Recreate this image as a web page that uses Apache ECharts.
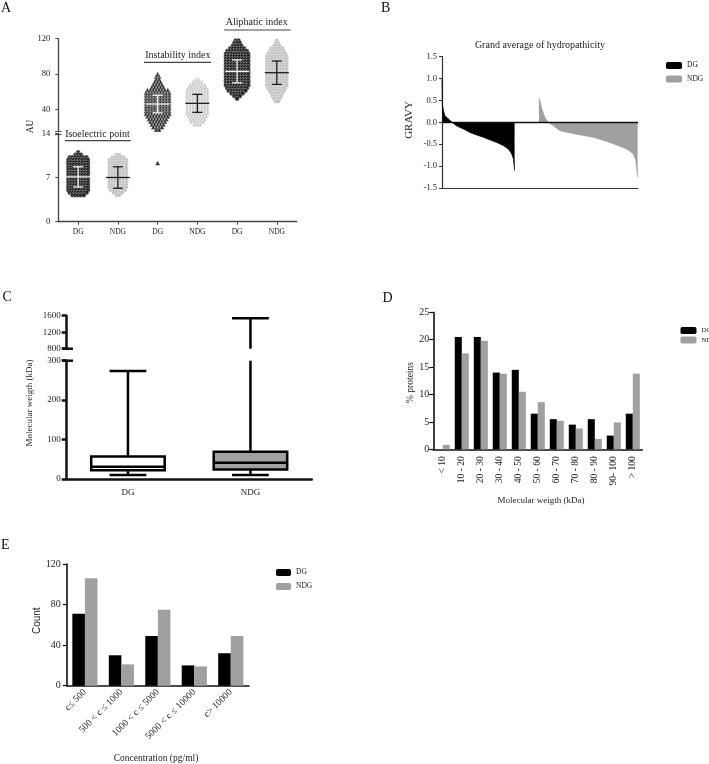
<!DOCTYPE html>
<html>
<head>
<meta charset="utf-8">
<script src="https://cdn.jsdelivr.net/npm/echarts@6/dist/echarts.min.js"></script>
<style>
  html, body { margin: 0; padding: 0; background: #fff; }
  #chart { width: 709px; height: 764px; }
</style>
</head>
<body>
<div id="chart"></div>
<script>
// ---------- A: dot plots, each row = value level and how many dots sit on it
const aGroups = ['DG', 'NDG', 'DG', 'NDG', 'DG', 'NDG'];
const isoLevels = [11.0, 10.6, 10.2, 9.8, 9.4, 9.0, 8.6, 8.2, 7.8, 7.4, 7.0, 6.6, 6.2, 5.8, 5.4, 5.0, 4.6, 4.2];
const isoDgCounts = [1, 3, 7, 8, 8, 8, 8, 8, 8, 8, 8, 8, 8, 8, 8, 8, 7, 5];
const isoNdgCounts = [0, 2, 5, 7, 7, 7, 7, 7, 7, 7, 7, 7, 7, 7, 7, 6, 4, 2];
const instLevels = [80, 77, 74, 71, 68, 65, 62, 59, 56, 53, 50, 47, 44, 41, 38, 35, 32, 29, 26, 23, 20, 17];
const instDgCounts = [1, 2, 2, 3, 4, 5, 8, 9, 9, 9, 9, 9, 9, 9, 9, 9, 8, 7, 6, 5, 4, 2];
const instNdgCounts = [0, 0, 2, 4, 6, 7, 8, 8, 8, 8, 8, 8, 8, 8, 8, 8, 7, 6, 5, 3, 0, 0];
const instDgOutlier = [9.3];
const aliLevels = [118, 115, 112, 109, 106, 103, 100, 97, 94, 91, 88, 85, 82, 79, 76, 73, 70, 67, 64, 61, 58, 55, 52, 49];
const aliDgCounts = [2, 3, 4, 6, 8, 9, 9, 9, 9, 9, 9, 9, 9, 9, 9, 9, 9, 9, 8, 7, 5, 3, 1, 0];
const aliNdgCounts = [1, 2, 3, 5, 6, 7, 8, 8, 8, 8, 8, 8, 8, 8, 8, 8, 8, 8, 7, 6, 5, 4, 3, 2];
const aMeans = [7.1, 7.0, 46.0, 46.8, 83.0, 81.5];
const aSds = [1.6, 1.7, 10.0, 10.2, 13.0, 13.2];

// ---------- B: sorted GRAVY (protein rank, value)
const dgRank = [0, 1, 4, 8, 15, 22, 27, 40, 59, 77, 96, 114, 132, 151, 169, 183, 192, 197, 200];
const dgGravy = [1.0, 0.4, 0.27, 0.15, 0.1, 0.04, 0.0, -0.08, -0.15, -0.23, -0.29, -0.34, -0.40, -0.46, -0.53, -0.61, -0.72, -0.84, -1.1];
const ndgRank = [0, 3, 8, 17, 26, 40, 58, 104, 150, 196, 242, 260, 267, 272];
const ndgGravy = [0.55, 0.48, 0.3, 0.1, 0.0, -0.08, -0.19, -0.27, -0.34, -0.46, -0.61, -0.72, -0.87, -1.25];
const ndgStart = 267;
const rankMax = 540;

// ---------- C: molecular weight box plot
const boxGroups = ['DG', 'NDG'];
const mwLow = [10, 10];
const mwQ1 = [22, 24];
const mwMedian = [31, 41];
const mwQ3 = [57, 69];
const mwHigh = [274, 1537];

// ---------- D: molecular weight distribution
const mwBins = ['< 10', '10 - 20', '20 - 30', '30 - 40', '40 - 50', '50 - 60', '60 - 70', '70 - 80', '80 - 90', '90- 100', '> 100'];
const mwDG = [0, 20.5, 20.5, 14, 14.5, 6.5, 5.5, 4.5, 5.5, 2.5, 6.5];
const mwNDG = [0.8, 17.5, 19.8, 13.8, 10.5, 8.6, 5.2, 3.8, 1.9, 4.9, 13.8];

// ---------- E: concentration classes
const concBins = ['c\u2264 500', '500 < c \u2264 1000', '1000 < c \u2264 5000', '5000 < c \u2264 10000', 'c> 10000'];
const concDG = [71, 30, 49, 20, 32];
const concNDG = [106, 21, 75, 19, 49];

const SERIF = 'Liberation Serif';
const SANS = 'Liberation Sans';
const TXT = '#222';

const chart = echarts.init(document.getElementById('chart'));

// px width of one group in panel A (grid width / 6)
const A_SLOT = 238.4 / 6;
function swarm(slot, levels, counts, stepPx) {
  const pts = [];
  levels.forEach((lv, i) => {
    const n = counts[i];
    for (let k = 0; k < n; k++) {
      pts.push([slot + 0.5 + (k - (n - 1) / 2) * stepPx / A_SLOT, lv]);
    }
  });
  return pts;
}

function renderErrorBar(params, api) {
  const x = api.value(0), m = api.value(1), s = api.value(2);
  const color = api.value(3) ? '#111' : '#fff';
  const t = api.coord([x, m + s]), c = api.coord([x, m]), b = api.coord([x, m - s]);
  const st = { stroke: color, lineWidth: 1.2 };
  return {
    type: 'group',
    children: [
      { type: 'line', shape: { x1: c[0], y1: t[1], x2: c[0], y2: b[1] }, style: st },
      { type: 'line', shape: { x1: c[0] - 5, y1: t[1], x2: c[0] + 5, y2: t[1] }, style: st },
      { type: 'line', shape: { x1: c[0] - 5, y1: b[1], x2: c[0] + 5, y2: b[1] }, style: st },
      { type: 'line', shape: { x1: c[0] - 12, y1: c[1], x2: c[0] + 12, y2: c[1] }, style: st }
    ]
  };
}

const boxFills = ['#fff', '#a0a0a0'];
function renderBox(params, api) {
  const cs = params.coordSys;
  const yMin = cs.y, yMax = cs.y + cs.height;
  const clampY = y => Math.min(yMax, Math.max(yMin, y));
  const inside = y => y >= yMin - 0.5 && y <= yMax + 0.5;
  const i = api.value(0);
  const band = api.size([1, 0])[0];
  const cx = api.coord([i, 0])[0];
  const py = k => api.coord([i, api.value(k)])[1];
  const yLow = py(1), yQ1 = py(2), yMed = py(3), yQ3 = py(4), yHigh = py(5);
  const bw = band * 0.3, cw = band * 0.15;
  const st = { stroke: '#000', lineWidth: 2.5 };
  const kids = [];
  const vline = (ya, yb) => {
    const a = clampY(ya), b2 = clampY(yb);
    if (Math.abs(a - b2) > 0.5) kids.push({ type: 'line', shape: { x1: cx, y1: a, x2: cx, y2: b2 }, style: st });
  };
  const hline = (y, half) => {
    if (inside(y)) kids.push({ type: 'line', shape: { x1: cx - half, y1: y, x2: cx + half, y2: y }, style: st });
  };
  vline(yLow, yQ1);
  vline(yQ3, yHigh);
  hline(yLow, cw);
  hline(yHigh, cw);
  const bTop = clampY(yQ3), bBot = clampY(yQ1);
  if (bBot - bTop > 0.5) {
    kids.push({ type: 'rect', shape: { x: cx - bw, y: bTop, width: 2 * bw, height: bBot - bTop },
      style: { fill: boxFills[i], stroke: '#000', lineWidth: 2.5 } });
  }
  hline(yMed, bw);
  return { type: 'group', children: kids };
}

const boxData = boxGroups.map((g, i) => [i, mwLow[i], mwQ1[i], mwMedian[i], mwQ3[i], mwHigh[i]]);
const errData = aMeans.map((m, i) => [i + 0.5, m, aSds[i], i % 2]);

const lbl = (size, extra) => Object.assign({ fontFamily: SERIF, fontSize: size, color: TXT }, extra || {});
const aLine = (w, c) => ({ show: true, lineStyle: { color: c, width: w } });
const plain = v => String(v);

const groupTicks = [0.5, 1.5, 2.5, 3.5, 4.5, 5.5];

const option = {
  animation: false,
  backgroundColor: '#fff',
  grid: [
    { left: 58.3, top: 133.3, width: 238.4, height: 88.4 },   // A lower
    { left: 58.3, top: 38.7, width: 238.4, height: 92.7 },    // A upper
    { left: 442, top: 56.7, width: 196, height: 131.3 },      // B
    { left: 66.7, top: 360.7, width: 245, height: 118.3 },    // C lower
    { left: 66.7, top: 315.7, width: 245, height: 33 },       // C upper
    { left: 433.3, top: 312.3, width: 209, height: 137 },     // D
    { left: 66.7, top: 564, width: 182.3, height: 121.7 }     // E
  ],
  xAxis: [
    { gridIndex: 0, type: 'value', min: 0, max: 6, splitLine: { show: false },
      axisLine: aLine(1.3, '#444'),
      axisTick: { customValues: groupTicks, length: 3, lineStyle: { color: '#444' } },
      axisLabel: lbl(7.5, { customValues: groupTicks, margin: 6, formatter: v => aGroups[Math.round(v - 0.5)] }) },
    { gridIndex: 1, type: 'value', min: 0, max: 6, show: false },
    { gridIndex: 2, type: 'value', min: 0, max: rankMax, splitLine: { show: false },
      axisLine: Object.assign(aLine(1.2, '#333'), { onZero: false }), axisTick: { show: false }, axisLabel: { show: false } },
    { gridIndex: 3, type: 'category', data: boxGroups, axisLine: aLine(2.5, '#111'), axisTick: { show: false },
      axisLabel: lbl(9, { margin: 9 }) },
    { gridIndex: 4, type: 'category', data: boxGroups, show: false },
    { gridIndex: 5, type: 'category', data: mwBins, axisLine: aLine(1.6, '#111'),
      axisTick: { alignWithLabel: true, length: 4, lineStyle: { color: '#111', width: 1.2 } },
      axisLabel: lbl(9.5, { rotate: 90, interval: 0, margin: 7 }) },
    { gridIndex: 6, type: 'category', data: concBins, axisLine: aLine(1.6, '#111'),
      axisTick: { alignWithLabel: true, length: 4, lineStyle: { color: '#111', width: 1.2 } },
      axisLabel: lbl(9.5, { rotate: 45, interval: 0, margin: 5 }) }
  ],
  yAxis: [
    { gridIndex: 0, type: 'value', min: 0, max: 14, interval: 7, splitLine: { show: false },
      axisLine: aLine(1.3, '#444'), axisTick: { show: true, length: 3, lineStyle: { color: '#444' } },
      axisLabel: lbl(8.5, { margin: 8 }) },
    { gridIndex: 1, type: 'value', min: 15, max: 120, splitLine: { show: false },
      axisLine: aLine(1.3, '#444'),
      axisTick: { show: true, customValues: [40, 80, 120], length: 3, lineStyle: { color: '#444' } },
      axisLabel: lbl(8.5, { customValues: [40, 80, 120], margin: 8 }) },
    { gridIndex: 2, type: 'value', min: -1.5, max: 1.5, interval: 0.5, splitLine: { show: false },
      axisLine: aLine(1.2, '#333'), axisTick: { show: true, length: 3, lineStyle: { color: '#333' } },
      axisLabel: lbl(8.5, { margin: 5, formatter: v => v.toFixed(1) }) },
    { gridIndex: 3, type: 'value', min: 0, max: 300, interval: 100, splitLine: { show: false },
      axisLine: aLine(2.5, '#111'), axisTick: { show: true, length: 5, lineStyle: { color: '#111', width: 2.5 } },
      axisLabel: lbl(9, { margin: 6, formatter: plain }) },
    { gridIndex: 4, type: 'value', min: 800, max: 1600, interval: 400, splitLine: { show: false },
      axisLine: aLine(2.5, '#111'), axisTick: { show: true, length: 5, lineStyle: { color: '#111', width: 2.5 } },
      axisLabel: lbl(9, { margin: 6, formatter: plain }) },
    { gridIndex: 5, type: 'value', min: 0, max: 25, interval: 5, splitLine: { show: false },
      axisLine: aLine(1.6, '#111'), axisTick: { show: true, length: 4, lineStyle: { color: '#111', width: 1.2 } },
      axisLabel: lbl(10, { margin: 4 }) },
    { gridIndex: 6, type: 'value', min: 0, max: 120, interval: 40, splitLine: { show: false },
      axisLine: aLine(1.6, '#111'), axisTick: { show: true, length: 4, lineStyle: { color: '#111', width: 1.2 } },
      axisLabel: lbl(10, { margin: 6 }) }
  ],
  legend: [
    { data: ['DG', 'NDG'], orient: 'vertical', left: 666, top: 61.5, width: 80, padding: 0, itemWidth: 16, itemHeight: 7,
      itemGap: 5.5, icon: 'roundRect', textStyle: lbl(7.5, { lineHeight: 8, overflow: 'none' }) },
    { data: ['DG', 'NDG'], orient: 'vertical', left: 680.5, top: 326.5, width: 80, padding: 0, itemWidth: 16, itemHeight: 7,
      itemGap: 1.5, icon: 'roundRect', textStyle: lbl(7, { lineHeight: 8, overflow: 'none' }) },
    { data: ['DG', 'NDG'], orient: 'vertical', left: 276, top: 568.5, width: 80, padding: 0, itemWidth: 15, itemHeight: 7,
      itemGap: 6, icon: 'roundRect', textStyle: lbl(7.5, { lineHeight: 8, overflow: 'none' }) }
  ],
  series: [
    // A - lower segment (isoelectric point, instability outlier)
    { name: 'A iso DG', type: 'scatter', xAxisIndex: 0, yAxisIndex: 0, symbol: 'circle', symbolSize: 4.6,
      itemStyle: { color: '#000', borderColor: '#fff', borderWidth: 0.4 }, data: swarm(0, isoLevels, isoDgCounts, 2.8) },
    { name: 'A iso NDG', type: 'scatter', xAxisIndex: 0, yAxisIndex: 0, symbol: 'circle', symbolSize: 4.2,
      itemStyle: { color: '#b3b3b3', borderColor: '#fff', borderWidth: 0.5 }, data: swarm(1, isoLevels, isoNdgCounts, 2.8) },
    { name: 'A inst DG low', type: 'scatter', xAxisIndex: 0, yAxisIndex: 0, symbol: 'triangle', symbolSize: 4.6,
      itemStyle: { color: '#000' }, data: instDgOutlier.map(v => [2.5, v]) },
    { name: 'A err low', type: 'custom', xAxisIndex: 0, yAxisIndex: 0, renderItem: renderErrorBar, z: 5,
      data: errData.slice(0, 2) },
    // A - upper segment
    { name: 'A inst DG', type: 'scatter', xAxisIndex: 1, yAxisIndex: 1, symbol: 'triangle', symbolSize: 4.8,
      itemStyle: { color: '#000', borderColor: '#fff', borderWidth: 0.4 }, data: swarm(2, instLevels, instDgCounts, 2.9) },
    { name: 'A inst NDG', type: 'scatter', xAxisIndex: 1, yAxisIndex: 1, symbol: 'triangle', symbolSize: 4.2,
      itemStyle: { color: '#b3b3b3', borderColor: '#fff', borderWidth: 0.5 }, data: swarm(3, instLevels, instNdgCounts, 2.9) },
    { name: 'A ali DG', type: 'scatter', xAxisIndex: 1, yAxisIndex: 1, symbol: 'circle', symbolSize: 4.6,
      itemStyle: { color: '#000', borderColor: '#fff', borderWidth: 0.4 }, data: swarm(4, aliLevels, aliDgCounts, 2.8) },
    { name: 'A ali NDG', type: 'scatter', xAxisIndex: 1, yAxisIndex: 1, symbol: 'circle', symbolSize: 4.2,
      itemStyle: { color: '#b3b3b3', borderColor: '#fff', borderWidth: 0.5 }, data: swarm(5, aliLevels, aliNdgCounts, 2.8) },
    { name: 'A err up', type: 'custom', xAxisIndex: 1, yAxisIndex: 1, renderItem: renderErrorBar, z: 5,
      data: errData.slice(2) },

    // B
    { name: 'DG', type: 'line', xAxisIndex: 2, yAxisIndex: 2, showSymbol: false, symbol: 'none',
      lineStyle: { color: '#000', width: 0.8 }, itemStyle: { color: '#000' },
      areaStyle: { color: '#000', opacity: 1 },
      data: dgRank.map((r, i) => [r, dgGravy[i]]),
      markLine: { silent: true, symbol: 'none', label: { show: false },
        lineStyle: { color: '#111', width: 1.4, type: 'solid' }, data: [{ yAxis: 0 }] } },
    { name: 'NDG', type: 'line', xAxisIndex: 2, yAxisIndex: 2, showSymbol: false, symbol: 'none',
      lineStyle: { color: '#a0a0a0', width: 0.8 }, itemStyle: { color: '#a0a0a0' },
      areaStyle: { color: '#a0a0a0', opacity: 1 },
      data: ndgRank.map((r, i) => [ndgStart + r, ndgGravy[i]]) },

    // C
    { name: 'C low', type: 'custom', xAxisIndex: 3, yAxisIndex: 3, renderItem: renderBox, data: boxData },
    { name: 'C up', type: 'custom', xAxisIndex: 4, yAxisIndex: 4, renderItem: renderBox, data: boxData },

    // D
    { name: 'DG', type: 'bar', xAxisIndex: 5, yAxisIndex: 5, barGap: '0%', barCategoryGap: '26%',
      itemStyle: { color: '#000' }, data: mwDG },
    { name: 'NDG', type: 'bar', xAxisIndex: 5, yAxisIndex: 5, barGap: '0%', barCategoryGap: '26%',
      itemStyle: { color: '#a0a0a0' }, data: mwNDG },

    // E
    { name: 'DG', type: 'bar', xAxisIndex: 6, yAxisIndex: 6, barGap: '0%', barCategoryGap: '31%',
      itemStyle: { color: '#000' }, data: concDG },
    { name: 'NDG', type: 'bar', xAxisIndex: 6, yAxisIndex: 6, barGap: '0%', barCategoryGap: '31%',
      itemStyle: { color: '#a0a0a0' }, data: concNDG }
  ],
  graphic: [
    // panel letters
    { type: 'text', x: 1, y: 1, style: { text: 'A', font: '14px ' + SERIF, fill: '#111' } },
    { type: 'text', x: 381, y: 1, style: { text: 'B', font: '14px ' + SERIF, fill: '#111' } },
    { type: 'text', x: 2.5, y: 290.5, style: { text: 'C', font: '14px ' + SERIF, fill: '#111' } },
    { type: 'text', x: 382.5, y: 291.5, style: { text: 'D', font: '14px ' + SERIF, fill: '#111' } },
    { type: 'text', x: 1, y: 538.5, style: { text: 'E', font: '14px ' + SERIF, fill: '#111' } },

    // A group headers
    { type: 'text', x: 97.5, y: 134.5, style: { text: 'Isoelectric point', font: '10px ' + SERIF, fill: TXT, align: 'center', verticalAlign: 'middle' } },
    { type: 'line', shape: { x1: 65, y1: 140.7, x2: 130.7, y2: 140.7 }, style: { stroke: '#444', lineWidth: 1.2 } },
    { type: 'text', x: 177.8, y: 55, style: { text: 'Instability index', font: '10px ' + SERIF, fill: TXT, align: 'center', verticalAlign: 'middle' } },
    { type: 'line', shape: { x1: 144, y1: 62.3, x2: 211, y2: 62.3 }, style: { stroke: '#444', lineWidth: 1.2 } },
    { type: 'text', x: 256.8, y: 22.5, style: { text: 'Aliphatic index', font: '10px ' + SERIF, fill: TXT, align: 'center', verticalAlign: 'middle' } },
    { type: 'line', shape: { x1: 224, y1: 30, x2: 290.7, y2: 30 }, style: { stroke: '#444', lineWidth: 1.2 } },
    // axis breaks
    { type: 'line', shape: { x1: 55, y1: 131.6, x2: 61.6, y2: 131.6 }, style: { stroke: '#444', lineWidth: 1 } },
    { type: 'line', shape: { x1: 55, y1: 134.6, x2: 61.6, y2: 134.6 }, style: { stroke: '#444', lineWidth: 1 } },
    { type: 'line', shape: { x1: 62, y1: 348.7, x2: 73, y2: 348.7 }, style: { stroke: '#111', lineWidth: 2.5 } },
    { type: 'line', shape: { x1: 62, y1: 360.7, x2: 73, y2: 360.7 }, style: { stroke: '#111', lineWidth: 2.5 } },

    // axis titles
    { type: 'text', x: 30, y: 126.5, rotation: Math.PI / 2, style: { text: 'AU', font: '9.5px ' + SERIF, fill: TXT, align: 'center', verticalAlign: 'middle' } },
    { type: 'text', x: 540, y: 45, style: { text: 'Grand average of hydropathicity', font: '10px ' + SERIF, fill: TXT, align: 'center', verticalAlign: 'middle' } },
    { type: 'text', x: 409, y: 120, rotation: Math.PI / 2, style: { text: 'GRAVY', font: '11px ' + SERIF, fill: TXT, align: 'center', verticalAlign: 'middle' } },
    { type: 'text', x: 30, y: 403, rotation: Math.PI / 2, style: { text: 'Molecular weigth (kDa)', font: '9px ' + SERIF, fill: TXT, align: 'center', verticalAlign: 'middle' } },
    { type: 'text', x: 410, y: 382.5, rotation: Math.PI / 2, style: { text: '% proteins', font: '9.5px ' + SERIF, fill: TXT, align: 'center', verticalAlign: 'middle' } },
    { type: 'text', x: 541, y: 501, style: { text: 'Molecular weigth (kDa)', font: '9px ' + SERIF, fill: TXT, align: 'center', verticalAlign: 'middle' } },
    { type: 'text', x: 37.3, y: 620.7, rotation: Math.PI / 2, style: { text: 'Count', font: '10px ' + SANS, fill: TXT, align: 'center', verticalAlign: 'middle' } },
    { type: 'text', x: 156, y: 758, style: { text: 'Concentration (pg/ml)', font: '9.5px ' + SERIF, fill: TXT, align: 'center', verticalAlign: 'middle' } }
  ]
};

chart.setOption(option);
</script>
</body>
</html>
